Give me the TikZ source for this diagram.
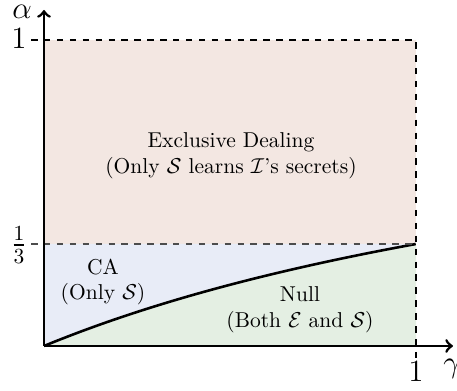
\documentclass[tikz,border=0pt]{standalone}
\usepackage{amsmath}
\begin{document}
\begin{tikzpicture}[x=0.465pt,y=0.465pt,
  axis/.style={line width=1.3pt,->},
  bound/.style={line width=1.2pt,dashed},
  thirdline/.style={line width=0.8pt,dashed,black!70},
  curve/.style={line width=1.2pt},
  region/.style={align=center,font=\normalsize},
  ticklabel/.style={font=\Large,inner sep=0pt}]
\definecolor{topfill}{RGB}{243,231,226}
\definecolor{cafill}{RGB}{232,236,247}
\definecolor{nullfill}{RGB}{228,239,227}
\useasboundingbox (0,0) rectangle (457,391);

% key points (origin, gamma = 1, alpha = 1, alpha = 1/3)
\coordinate (O) at (44,45);
\coordinate (X1) at (416,45);
\coordinate (Y1) at (44,351);
\coordinate (Y3) at (44,147);
\coordinate (C1) at (416,351);
\coordinate (C3) at (416,147);

% regions
\fill[topfill] (Y3) rectangle (C1);
\fill[cafill] (O) -- (Y3) -- (C3)
  -- plot[domain=1:0,samples=60] ({44+372*\x},{45+306*\x/(2+\x)}) -- cycle;
\fill[nullfill] (O) -- (X1) -- (C3)
  -- plot[domain=1:0,samples=60] ({44+372*\x},{45+306*\x/(2+\x)}) -- cycle;

% boundary between CA and Null: alpha = gamma/(2+gamma)
\draw[curve] plot[domain=0:1,samples=60] ({44+372*\x},{45+306*\x/(2+\x)});

% dashed bounds
\draw[thirdline] ([xshift=-6]Y3) -- (C3);
\draw[bound] ([xshift=-6]Y1) -- (C1) -- ([yshift=-6]X1);

% axes
\coordinate (xend) at (453,45);
\coordinate (yend) at (44,381);
\draw[axis] (O) -- (xend);
\draw[axis] (O) -- (yend);

% labels
\node[ticklabel] (l1y) at (19,352) {$1$};
\node[ticklabel] (l3y) at (19,146) {$\frac{1}{3}$};
\node[ticklabel] (l1x) at (416,19) {$1$};
\node[ticklabel,anchor=west] (gam) at (443,22) {$\gamma$};
\node[ticklabel] (alp) at (22,379) {$\alpha$};

\node[region] (ed) at (231,235) {Exclusive Dealing\\(Only $\mathcal{S}$ learns $\mathcal{I}$'s secrets)};
\node[region] (ca) at (103,109) {CA\\(Only $\mathcal{S}$)};
\node[region] (nu) at (300,81) {Null\\(Both $\mathcal{E}$ and $\mathcal{S}$)};
\end{tikzpicture}
\end{document}
